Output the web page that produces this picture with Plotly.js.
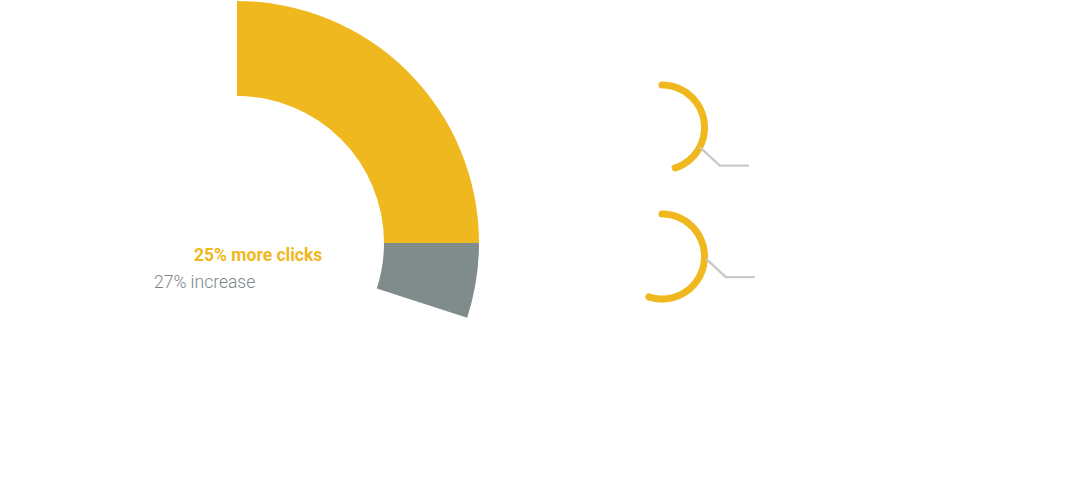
<!DOCTYPE html>
<html>
<head>
<meta charset="utf-8">
<script src="https://cdn.plot.ly/plotly-3.0.1.min.js"></script>
<style>
  html, body { margin: 0; padding: 0; width: 1091px; height: 480px; overflow: hidden; background: #ffffff; }
  #chart { position: absolute; left: -5px; top: 1px; width: 1096px; height: 484px; }
  #chart .js-line { stroke-linecap: round !important; stroke-linejoin: round !important; }
</style>
</head>
<body>
<div id="chart"></div>
<script>
// ---- data ----
const mainLabels = ['More clicks', 'Increase', 'Rest'];
const mainValues = [25, 5, 70];
const ringNames = ['Ring A', 'Ring B'];
const ringValues = [45, 55];
const textLabels = ['25% more clicks', '27% increase'];

// ---- styling / geometry ----
const YELLOW = '#efb81e';
const SLATE = '#808b8b';
const TEXTGRAY = '#7b8687';
const LEADER = '#c9c9c9';
const ringCenters = [[662, 127.5], [662, 256.5]];
const ringRadius = 42.5;
const leaderAngles = [118, 94];
const leaderOffsets = [1.5, 2.5];

const traces = [];

traces.push({
  type: 'pie',
  labels: mainLabels,
  values: mainValues,
  sort: false,
  direction: 'clockwise',
  rotation: 0,
  hole: 147 / 242,
  textinfo: 'none',
  hoverinfo: 'skip',
  domain: { x: [0, 484 / 1096], y: [0, 1] },
  marker: { colors: [YELLOW, SLATE, 'rgba(0,0,0,0)'], line: { width: 0 } },
  showlegend: false
});

ringValues.forEach((v, i) => {
  const [cx, cy] = ringCenters[i];
  const end = v * 3.6;
  const xs = [], ys = [];
  const n = Math.ceil(end * 4);
  for (let k = 0; k <= n; k++) {
    const t = (end * k / n) * Math.PI / 180;
    xs.push(cx + ringRadius * Math.sin(t));
    ys.push(cy - ringRadius * Math.cos(t));
  }
  traces.push({
    type: 'scatter', mode: 'lines', name: ringNames[i],
    x: xs, y: ys,
    line: { color: YELLOW, width: 7, simplify: false, shape: 'spline', smoothing: 0.5 },
    hoverinfo: 'skip', showlegend: false
  });
  // leader line
  const t = leaderAngles[i] * Math.PI / 180;
  const r0 = ringRadius + leaderOffsets[i];
  const sx = cx + r0 * Math.sin(t), sy = cy - r0 * Math.cos(t);
  traces.push({
    type: 'scatter', mode: 'lines',
    x: [sx, sx + 19, sx + 47],
    y: [sy, sy + 17.5, sy + 17.5],
    line: { color: LEADER, width: 2.4 },
    hoverinfo: 'skip', showlegend: false
  });
});

const layout = {
  width: 1096, height: 484,
  margin: { l: 0, r: 0, t: 0, b: 0 },
  paper_bgcolor: 'rgba(0,0,0,0)',
  plot_bgcolor: 'rgba(0,0,0,0)',
  showlegend: false,
  xaxis: { range: [-5, 1091], visible: false, fixedrange: true },
  yaxis: { range: [485, 1], visible: false, fixedrange: true },
  annotations: [
    { x: 257.5, y: 255, xref: 'x', yref: 'y', text: textLabels[0], showarrow: false,
      xanchor: 'center', yanchor: 'middle',
      font: { family: 'Roboto, "Open Sans", sans-serif', size: 17.5, color: YELLOW, weight: 'bold' } },
    { x: 204.5, y: 281.5, xref: 'x', yref: 'y', text: textLabels[1], showarrow: false,
      xanchor: 'center', yanchor: 'middle',
      font: { family: 'Roboto, "Open Sans", sans-serif', size: 17.5, color: TEXTGRAY, weight: 300 } }
  ]
};

Plotly.newPlot('chart', traces, layout, { staticPlot: true, displayModeBar: false });
</script>
</body>
</html>
